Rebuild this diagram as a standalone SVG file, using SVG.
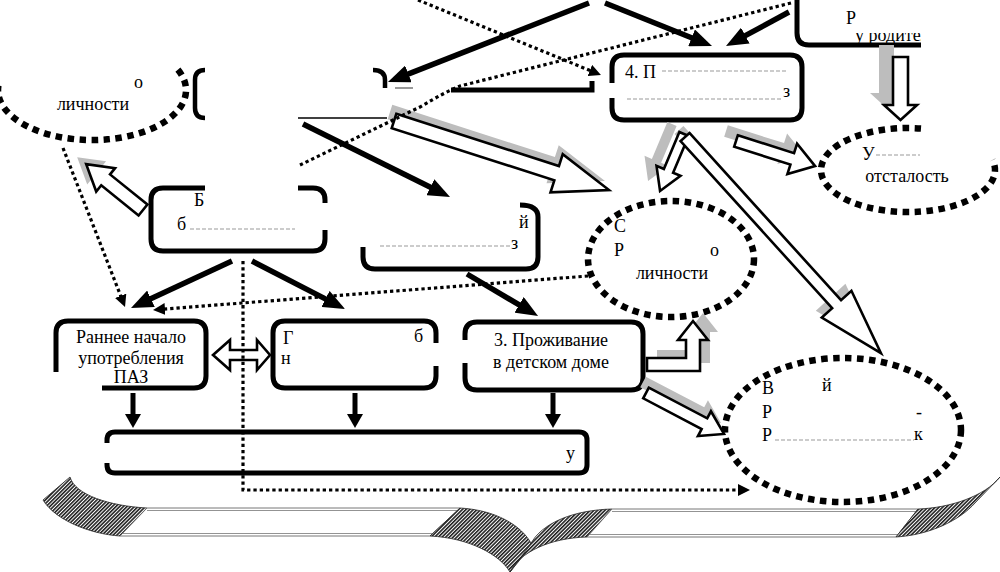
<svg xmlns="http://www.w3.org/2000/svg" width="1000" height="572" viewBox="0 0 1000 572">
<style>
.box{fill:none;stroke:#000;stroke-width:5}
.ell{fill:none;stroke:#000;stroke-width:6.5;stroke-dasharray:6.5 5.5}
.thick{fill:none;stroke:#000;stroke-width:5.5;marker-end:url(#ah)}
.down{fill:none;stroke:#000;stroke-width:5;marker-end:url(#ahs)}
.dot{fill:none;stroke:#000;stroke-width:3.2;stroke-dasharray:3.3 3}
.hollow{fill:#fff;stroke:#000;stroke-width:2.6}
.shadow{fill:#bdbdbd}
.thin{fill:none;stroke:#000;stroke-width:1.5}
.rem{fill:none;stroke:#999;stroke-width:1;stroke-dasharray:4 2}
.hatch{fill:url(#hatch);stroke:#222;stroke-width:0.8}
.band{fill:#fff;stroke:#666;stroke-width:0.9}
</style>
<defs>
<marker id="ah" markerUnits="userSpaceOnUse" markerWidth="22" markerHeight="18" refX="8" refY="9" orient="auto"><path d="M0,0 L22,9 L0,18 z" fill="#000"/></marker>
<marker id="ahs" markerUnits="userSpaceOnUse" markerWidth="14" markerHeight="16" refX="4" refY="8" orient="auto"><path d="M0,0 L14,8 L0,16 z" fill="#000"/></marker>
<marker id="ahd" markerUnits="userSpaceOnUse" markerWidth="12" markerHeight="12" refX="2" refY="6" orient="auto"><path d="M0,0 L12,6 L0,12 z" fill="#000"/></marker>
<pattern id="hatch" patternUnits="userSpaceOnUse" width="2.6" height="2.6" patternTransform="rotate(45)"><rect width="2.6" height="2.6" fill="#fff"/><line x1="0.8" y1="0" x2="0.8" y2="2.6" stroke="#111" stroke-width="1.5"/></pattern>
<clipPath id="cRod"><rect x="840" y="33" width="81" height="14"/></clipPath>
</defs>

<!-- brace -->
<g id="brace">
<path class="hatch" d="M70,477 C75,495 110,506 147,508 L120,536 C90,534 55,520 43,500 Z"/>
<path class="band" d="M147,508 L460,508 L430,536 L120,536 Z"/>
<path class="thin" style="stroke:#777;stroke-width:0.8" d="M147,510.5 L458,510.5 M122,533.5 L432,533.5"/>
<path class="hatch" d="M460,508 C495,510 522,525 532,545 L510,572 C500,555 470,538 430,536 Z"/>
<path class="hatch" d="M510,572 C520,552 550,538 587,537 L612,509 C575,510 542,522 530,545 Z"/>
<path class="band" d="M612,509 L918,509 L896,537 L587,537 Z"/>
<path class="thin" style="stroke:#777;stroke-width:0.8" d="M612,511.5 L916,511.5 M589,534.5 L898,534.5"/>
<path class="hatch" d="M918,509 C950,508 985,496 1000,477 L975,503 C960,520 930,535 896,537 Z"/>
</g>

<g font-family="Liberation Serif, Times New Roman, serif" font-size="18" fill="#000">
<!-- ellipses -->
<g id="ell-left"><path class="ell" d="M177.9,69.7 A94,50 0 1,1 -1.6,85.6"/>
<text x="134" y="88">о</text>
<text x="93" y="110" text-anchor="middle">личности</text></g>
<g id="ell-right"><path class="ell" d="M921,128.5 A87,42 0 1,0 992.5,160"/>
<text x="862" y="160">У</text><path class="rem" d="M876,155 L920,155"/>
<text x="907" y="182" text-anchor="middle">отсталость</text></g>
<g id="ell-mid"><ellipse class="ell" cx="671" cy="259" rx="83" ry="58"/>
<text x="614" y="232">С</text>
<text x="614" y="256">Р</text>
<text x="710" y="256">о</text>
<text x="672" y="279" text-anchor="middle">личности</text></g>
<g id="ell-br"><ellipse class="ell" cx="843" cy="430" rx="118" ry="72"/>
<text x="762" y="394">В</text>
<text x="822" y="391">й</text>
<text x="762" y="418">Р</text>
<text x="916" y="418">-</text>
<text x="762" y="441">Р</text>
<path class="rem" d="M775,440 L914,440"/>
<text x="914" y="440">к</text></g>

<!-- boxes -->
<g id="box-top-left"><path class="box" style="stroke-width:4.5" d="M205,70 Q195,70 195,80 L195,108 Q195,118 205,118 M373,70 Q385,70 385,80 L385,88"/>
<path class="thin" d="M298,118 L387,118"/><path class="thin" style="stroke:#777" d="M395,88 L413,88"/></g>
<g id="box-top-right"><path class="box" d="M797,0 L797,33 Q797,45 809,45 L921,45"/>
<text x="846" y="24">Р</text>
<text x="855" y="41" clip-path="url(#cRod)">у родител</text></g>
<g id="box-4"><path class="box" d="M612,83 L612,67 Q612,55 624,55 L790,55 Q802,55 802,67 L802,108 Q802,120 790,120 L624,120 Q612,120 612,108 L612,98"/>
<text x="625" y="78">4. П</text><path class="rem" d="M662,71 L788,71"/>
<path class="rem" d="M627,99 L782,99"/><text x="783" y="97">з</text></g>
<g id="box-b"><path class="box" d="M205,188 L163,188 Q151,188 151,200 L151,239 Q151,251 163,251 L313,251 Q325,251 325,239 L325,230 M325,203 L325,200 Q325,188 313,188 L298,188"/>
<text x="194" y="206">Б</text>
<text x="177" y="230">б</text><path class="rem" d="M190,229 L295,229"/></g>
<g id="box-y"><path class="box" d="M520,205 Q538,205 538,217 L538,257 Q538,269 526,269 L375,269 Q363,269 363,257 L363,247"/>
<text x="519" y="228">й</text>
<path class="rem" d="M380,246 L510,246"/><text x="511" y="249">з</text></g>
<g id="box-paz"><path class="box" d="M102,388 L194,388 Q206,388 206,376 L206,333 Q206,321 194,321 L68,321 Q56,321 56,333 L56,372"/>
<text x="131" y="343" text-anchor="middle">Раннее начало</text>
<text x="131" y="364" text-anchor="middle">употребления</text>
<text x="131" y="383" text-anchor="middle">ПАЗ</text></g>
<g id="box-g"><path class="box" d="M436,366 L436,376 Q436,388 424,388 L285,388 Q273,388 273,376 L273,333 Q273,321 285,321 L424,321 Q436,321 436,333 L436,343"/>
<text x="283" y="344">Г</text>
<text x="414" y="342">б</text>
<text x="281" y="364">н</text></g>
<g id="box-home"><path class="box" d="M465,340 L465,334 Q465,322 477,322 L631,322 Q643,322 643,334 L643,378 Q643,390 631,390 L477,390 Q465,390 465,378 L465,363"/>
<text x="551" y="346" text-anchor="middle">3. Проживание</text>
<text x="551" y="368" text-anchor="middle">в детском доме</text></g>
<g id="box-bar"><path class="box" d="M107,443 L107,440 Q107,432 115,432 L579,432 Q587,432 587,440 L587,465 Q587,473 579,473 L115,473 Q107,473 107,465 L107,463"/>
<text x="566" y="459">у</text></g>
</g>

<!-- connectors -->
<g id="connectors">
<g id="shadows">
<polygon class="shadow" transform="translate(390,112) rotate(17.8)" points="0,-7.5 170.8,-7.5 170.8,-20 225.8,0 170.8,20 170.8,7.5 0,7.5"/>
<polygon class="shadow" transform="translate(134,203) rotate(-141.1)" points="0,-7 48,-7 48,-15 73,0 48,15 48,7 0,7"/>
<polygon class="shadow" transform="translate(726,131) rotate(17.6)" points="0,-6 59,-6 59,-16 83,0 59,16 59,6 0,6"/>
<polygon class="shadow" transform="translate(672,124) rotate(112.8)" points="0,-5 40,-5 40,-13 61.8,0 40,13 40,5 0,5"/>
<polygon class="shadow" transform="translate(679,130) rotate(47.8)" points="0,-6 225.7,-6 225.7,-20 291.7,0 225.7,20 225.7,6 0,6"/>
<polygon class="shadow" transform="translate(643,382) rotate(27.7)" points="0,-6 66,-6 66,-14 88.1,0 66,14 66,6 0,6"/>
<polygon class="shadow" transform="translate(10,-8)" points="647,358 686,358 686,340 678,340 693,321 708,340 700,340 700,371 647,371"/>
<polygon class="shadow" transform="translate(-14,-12)" points="893,57 908,57 908,105 917,105 900.5,120 884,105 893,105"/>
</g>
<polygon class="hollow" transform="translate(394,121) rotate(17.8)" points="0,-7.5 170.8,-7.5 170.8,-20 225.8,0 170.8,20 170.8,7.5 0,7.5"/>
<polygon class="hollow" transform="translate(143,210) rotate(-141.1)" points="0,-7 48,-7 48,-15 73,0 48,15 48,7 0,7"/>
<polygon class="hollow" transform="translate(736,141) rotate(17.6)" points="0,-6 59,-6 59,-16 83,0 59,16 59,6 0,6"/>
<polygon class="hollow" transform="translate(684,134) rotate(112.8)" points="0,-5 40,-5 40,-13 61.8,0 40,13 40,5 0,5"/>
<polygon class="hollow" transform="translate(685,137) rotate(47.8)" points="0,-6 225.7,-6 225.7,-20 291.7,0 225.7,20 225.7,6 0,6"/>
<polygon class="hollow" transform="translate(646,393) rotate(27.7)" points="0,-6 66,-6 66,-14 88.1,0 66,14 66,6 0,6"/>
<polygon class="hollow" points="647,358 686,358 686,340 678,340 693,321 708,340 700,340 700,371 647,371"/>
<polygon class="hollow" points="893,57 908,57 908,105 917,105 900.5,120 884,105 893,105"/>
<polygon class="hollow" points="213,355 230,340 230,350 257,350 257,340 270,355 257,370 257,360 230,360 230,370"/>

<path class="thick" d="M589,3 L401,76.9"/>
<path class="thick" d="M605,3 L699,40.8"/>
<path class="thick" d="M789,12 L738.3,39.4"/>
<path class="thick" d="M303,124 L437.5,190.8"/>
<path class="thick" d="M232,261 L143.7,302.1"/>
<path class="thick" d="M252,261 L332.6,302.6"/>
<path class="thick" d="M467,274 L526,308.9"/>
<path class="box" d="M451,90 L592,90 L592,81"/>
<path class="down" d="M133,393 L133,418"/>
<path class="down" d="M355,393 L355,418"/>
<path class="down" d="M553,393 L553,418"/>

<path class="dot" marker-end="url(#ahd)" d="M418,0 L591.7,71.2"/>
<path class="dot" d="M791,3 L460,86 Q445,92 420,107 L300,165"/>
<path class="dot" marker-end="url(#ahd)" d="M63,148 L121.4,297.7"/>
<path class="dot" marker-end="url(#ahd)" d="M588,276 L163,309.2"/>
<path class="dot" marker-end="url(#ahd)" d="M243,261 L243,490 L740,490"/>
</g>
</svg>
